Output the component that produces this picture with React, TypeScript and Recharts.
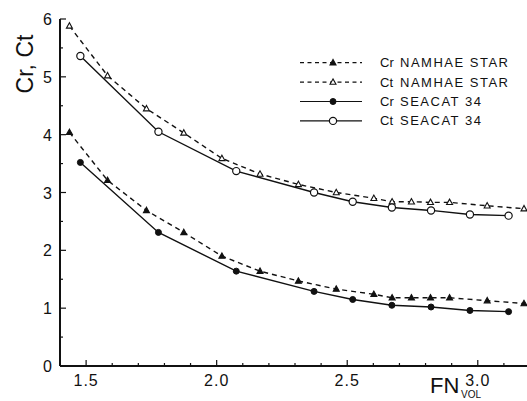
import React from 'react';
import { Legend, Scatter, ScatterChart, XAxis, YAxis } from 'recharts';

// FN_vol positions of the measured points
const NAMHAE_FN = [1.436, 1.582, 1.731, 1.874, 2.02, 2.166, 2.313, 2.458, 2.602, 2.672, 2.746, 2.819, 2.892, 3.036, 3.177];
const NAMHAE_CR = [4.04, 3.21, 2.69, 2.31, 1.9, 1.64, 1.47, 1.33, 1.24, 1.18, 1.18, 1.18, 1.18, 1.13, 1.08];
const NAMHAE_CT = [5.88, 5.02, 4.45, 4.03, 3.59, 3.32, 3.14, 3.0, 2.9, 2.84, 2.84, 2.83, 2.83, 2.77, 2.72];

const SEACAT_FN = [1.478, 1.777, 2.075, 2.373, 2.521, 2.671, 2.821, 2.97, 3.118];
const SEACAT_CR = [3.52, 2.31, 1.64, 1.29, 1.15, 1.05, 1.02, 0.96, 0.94];
const SEACAT_CT = [5.36, 4.05, 3.37, 3.0, 2.84, 2.74, 2.69, 2.62, 2.6];

const X_TICKS = [1.4, 1.5, 1.6, 1.7, 1.8, 1.9, 2.0, 2.1, 2.2, 2.3, 2.4, 2.5, 2.6, 2.7, 2.8, 2.9, 3.0, 3.1, 3.2];
const Y_TICKS = [0, 0.5, 1, 1.5, 2, 2.5, 3, 3.5, 4, 4.5, 5, 5.5, 6];

type MarkerKind = 'triFilled' | 'triOpen' | 'dotFilled' | 'dotOpen';

const SERIES_NAMES = ['Cr NAMHAE STAR', 'Ct NAMHAE STAR', 'Cr SEACAT 34', 'Ct SEACAT 34'];
const LEGEND_COEF = ['Cr', 'Ct', 'Cr', 'Ct'];
const LEGEND_SHIP = ['NAMHAE STAR', 'NAMHAE STAR', 'SEACAT 34', 'SEACAT 34'];
const LEGEND_DASHED = [true, true, false, false];
const LEGEND_MARKERS: MarkerKind[] = ['triFilled', 'triOpen', 'dotFilled', 'dotOpen'];

const INK = '#111';
const FONT = '"Liberation Sans", Arial, Helvetica, sans-serif';

const toPoints = (xs: number[], ys: number[]) => xs.map((x, i) => ({ x, y: ys[i] }));

function Marker({ cx, cy, kind }: { cx: number; cy: number; kind: MarkerKind }) {
  if (kind === 'triFilled' || kind === 'triOpen') {
    const filled = kind === 'triFilled';
    const pts = `${cx},${cy - 3.2} ${cx - 3},${cy + 2.2} ${cx + 3},${cy + 2.2}`;
    return <polygon points={pts} fill={filled ? INK : '#fff'} stroke={INK} strokeWidth={1.1} />;
  }
  if (kind === 'dotFilled') {
    return <circle cx={cx} cy={cy} r={3} fill={INK} stroke={INK} strokeWidth={1} />;
  }
  return <circle cx={cx} cy={cy} r={3.6} fill="#fff" stroke={INK} strokeWidth={1.2} />;
}

function isMajor(v: number, step: number) {
  const q = v / step;
  return Math.abs(q - Math.round(q)) < 1e-6;
}

function XTick(props: any) {
  const { x, y, payload } = props;
  const v = payload.value as number;
  const major = isMajor(v, 0.5);
  const axisY = y - 8;
  return (
    <g>
      <line x1={x} x2={x} y1={axisY} y2={axisY - (major ? 6 : 3)} stroke={INK} strokeWidth={1.2} />
      {major && v > 1.45 && v < 3.15 && (
        <text x={x} y={y + 12} textAnchor="middle" fontSize={16} letterSpacing={1} fill={INK} fontFamily={FONT}>
          {v.toFixed(1)}
        </text>
      )}
    </g>
  );
}

function YTick(props: any) {
  const { x, y, payload } = props;
  const v = payload.value as number;
  const major = isMajor(v, 1);
  const axisX = x + 8;
  return (
    <g>
      <line x1={axisX} x2={axisX + (major ? 6 : 3)} y1={y} y2={y} stroke={INK} strokeWidth={1.2} />
      {major && (
        <text x={x} y={y + 6} textAnchor="end" fontSize={16} fill={INK} fontFamily={FONT}>
          {v}
        </text>
      )}
    </g>
  );
}

function LegendBox() {
  return (
    <svg width={237} height={85} style={{ display: 'block' }}>
      {SERIES_NAMES.map((name, i) => {
        const rowY = 12.7 + i * 19.4;
        return (
          <g key={name}>
            <line
              x1={10}
              x2={72}
              y1={rowY}
              y2={rowY}
              stroke={INK}
              strokeWidth={1.2}
              strokeDasharray={LEGEND_DASHED[i] ? '4 3.5' : undefined}
            />
            <Marker cx={43} cy={rowY} kind={LEGEND_MARKERS[i]} />
            <text x={90} y={rowY + 4.5} fontSize={13} fill={INK} fontFamily={FONT}>
              {LEGEND_COEF[i]}
            </text>
            <text x={110} y={rowY + 4.5} fontSize={13} letterSpacing={1.5} fill={INK} fontFamily={FONT}>
              {LEGEND_SHIP[i]}
            </text>
          </g>
        );
      })}
    </svg>
  );
}

const dashedLine = { stroke: INK, strokeWidth: 1.4, strokeDasharray: '5 4' };
const solidLine = { stroke: INK, strokeWidth: 1.4 };

export default function App() {
  const series = [
    { name: SERIES_NAMES[0], data: toPoints(NAMHAE_FN, NAMHAE_CR), line: dashedLine, kind: 'triFilled' as MarkerKind },
    { name: SERIES_NAMES[1], data: toPoints(NAMHAE_FN, NAMHAE_CT), line: dashedLine, kind: 'triOpen' as MarkerKind },
    { name: SERIES_NAMES[2], data: toPoints(SEACAT_FN, SEACAT_CR), line: solidLine, kind: 'dotFilled' as MarkerKind },
    { name: SERIES_NAMES[3], data: toPoints(SEACAT_FN, SEACAT_CT), line: solidLine, kind: 'dotOpen' as MarkerKind },
  ];

  return (
    <div style={{ position: 'absolute', left: 0, top: 0, width: 527, height: 401, overflow: 'hidden', background: '#fff' }}>
      <ScatterChart width={540} height={401} margin={{ top: 19, right: 10, bottom: 5, left: 0 }}>
        <XAxis
          type="number"
          dataKey="x"
          domain={[1.4, 3.2]}
          ticks={X_TICKS}
          interval={0}
          height={30}
          tickSize={0}
          tickMargin={8}
          tickLine={false}
          tick={<XTick />}
          axisLine={{ stroke: INK, strokeWidth: 2 }}
          allowDataOverflow
          label={{
            content: () => (
              <g fill={INK} fontFamily={FONT}>
                <text x={430} y={393} fontSize={22}>FN</text>
                <text x={461} y={398} fontSize={10}>VOL</text>
              </g>
            ),
          }}
        />
        <YAxis
          type="number"
          dataKey="y"
          domain={[0, 6]}
          ticks={Y_TICKS}
          interval={0}
          width={60}
          tickSize={0}
          tickMargin={8}
          tickLine={false}
          tick={<YTick />}
          axisLine={{ stroke: INK, strokeWidth: 2 }}
          allowDataOverflow
          label={{
            content: () => (
              <text
                transform="translate(33,64) rotate(-90)"
                textAnchor="middle"
                fontSize={23}
                fill={INK}
                fontFamily={FONT}
              >
                Cr, Ct
              </text>
            ),
          }}
        />
        <Legend
          layout="horizontal"
          verticalAlign="middle"
          align="center"
          content={() => <LegendBox />}
          wrapperStyle={{ left: 290, top: 50, width: 237, height: 85 }}
        />
        {series.map((s) => (
          <Scatter
            key={s.name}
            name={s.name}
            data={s.data}
            line={s.line}
            lineType="joint"
            isAnimationActive={false}
            shape={(p: any) => <Marker cx={p.cx} cy={p.cy} kind={s.kind} />}
          />
        ))}
      </ScatterChart>
    </div>
  );
}
